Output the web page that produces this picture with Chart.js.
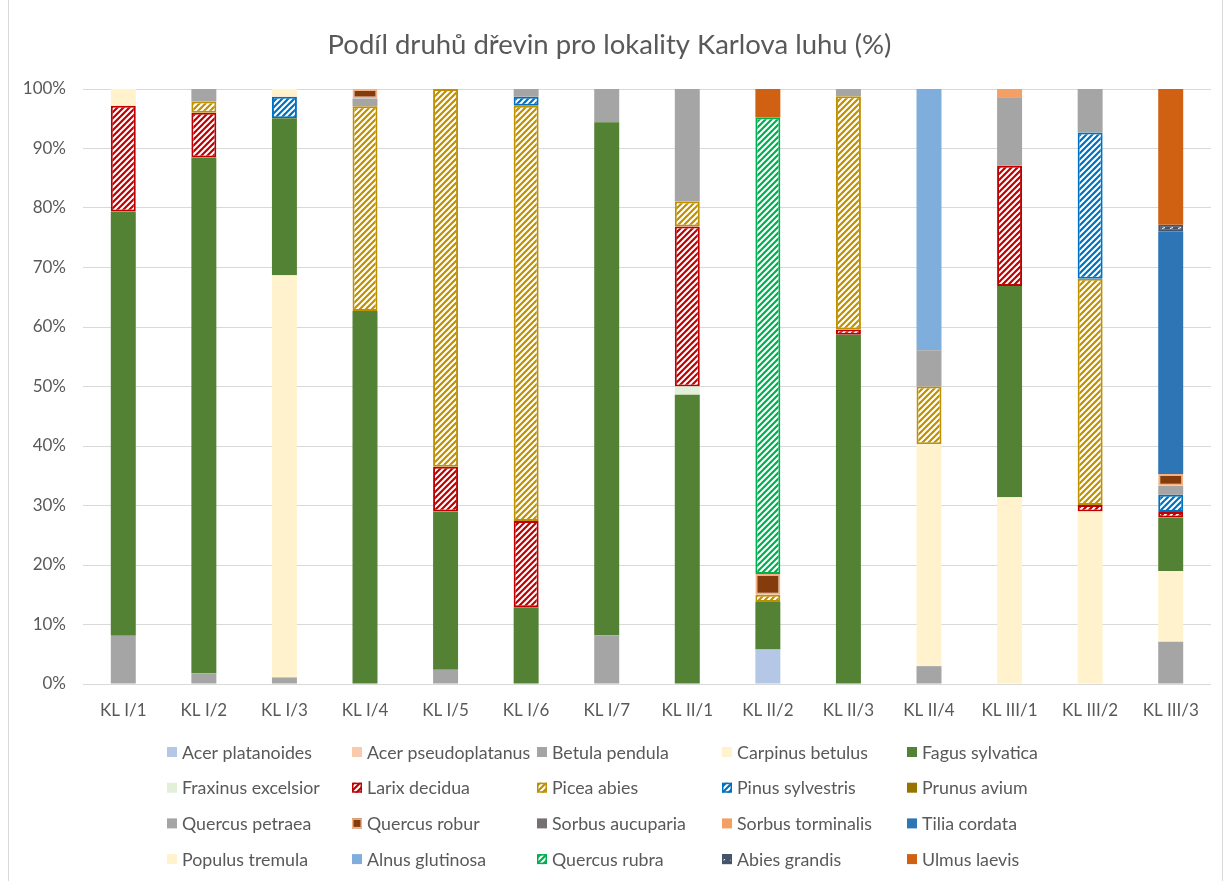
<!DOCTYPE html>
<html>
<head>
<meta charset="utf-8">
<title>Podíl druhů dřevin</title>
<script src="https://cdn.jsdelivr.net/npm/chart.js@4/dist/chart.umd.min.js"></script>
<style>
    body { margin: 0; background: #fff; }
    .chart-box { position: relative; width: 1224px; height: 881px; }
    .chart-box .frame { position: absolute; left: 8px; top: -1px; width: 1213px; height: 881px; border: 1px solid #d9d9d9; pointer-events: none; }
</style>
</head>
<body>
<div class="chart-box">
    <canvas id="myChart" width="1224" height="881"></canvas>
    <div class="frame"></div>
</div>
<script>
// locality labels
var localities = ["KL I/1", "KL I/2", "KL I/3", "KL I/4", "KL I/5", "KL I/6", "KL I/7",
    "KL II/1", "KL II/2", "KL II/3", "KL II/4", "KL III/1", "KL III/2", "KL III/3"];
var yTicks = [0, 10, 20, 30, 40, 50, 60, 70, 80, 90, 100];

// share of each species per locality (%), stacked bottom -> top
var acerPlatanoides    = [0, 0, 0, 0, 0, 0, 0, 0, 5.8, 0, 0, 0, 0, 0];
var acerPseudoplatanus = [0, 0, 0, 0, 0, 0, 0, 0, 0, 0, 0, 0, 0, 0];
var betulaPendula      = [8.1, 1.8, 1.1, 0, 2.4, 0, 8.2, 0, 0, 0, 3.0, 0, 0, 7.1];
var carpinusBetulus    = [0, 0, 67.6, 0, 0, 0, 0, 0, 0, 0, 37.3, 31.4, 29.0, 11.9];
var fagusSylvatica     = [71.3, 86.7, 26.4, 62.7, 26.6, 12.9, 86.2, 48.6, 8.0, 58.7, 0, 35.5, 0, 9.0];
var fraxinusExcelsior  = [0, 0, 0, 0, 0, 0, 0, 1.4, 0, 0, 0, 0, 0, 0];
var larixDecidua       = [17.8, 7.5, 0, 0, 7.5, 14.5, 0, 26.9, 0, 0.9, 0, 20.2, 1.1, 0.9];
var piceaAbies         = [0, 1.9, 0, 34.4, 63.5, 69.8, 0, 4.2, 1.2, 39.2, 9.7, 0, 38.0, 0];
var pinusSylvestris    = [0, 0, 3.6, 0, 0, 1.5, 0, 0, 0, 0, 0, 0, 24.6, 2.9];
var prunusAvium        = [0, 0, 0, 0, 0, 0, 0, 0, 0, 0, 0, 0, 0, 0];
var quercusPetraea     = [0, 2.1, 0, 1.3, 0, 1.3, 5.6, 18.9, 0, 1.2, 6.1, 11.5, 7.3, 1.5];
var quercusRobur       = [0, 0, 0, 1.6, 0, 0, 0, 0, 3.5, 0, 0, 0, 0, 2.0];
var sorbusAucuparia    = [0, 0, 0, 0, 0, 0, 0, 0, 0, 0, 0, 0, 0, 0];
var sorbusTorminalis   = [0, 0, 0, 0, 0, 0, 0, 0, 0, 0, 0, 1.4, 0, 0];
var tiliaCordata       = [0, 0, 0, 0, 0, 0, 0, 0, 0, 0, 0, 0, 0, 40.8];
var populusTremula     = [2.8, 0, 1.3, 0, 0, 0, 0, 0, 0, 0, 0, 0, 0, 0];
var alnusGlutinosa     = [0, 0, 0, 0, 0, 0, 0, 0, 0, 0, 43.9, 0, 0, 0];
var quercusRubra       = [0, 0, 0, 0, 0, 0, 0, 0, 76.7, 0, 0, 0, 0, 0];
var abiesGrandis       = [0, 0, 0, 0, 0, 0, 0, 0, 0, 0, 0, 0, 0, 1.1];
var ulmusLaevis        = [0, 0, 0, 0, 0, 0, 0, 0, 4.8, 0, 0, 0, 0, 22.8];

var canvas = document.getElementById('myChart');
var ctx = canvas.getContext('2d');
var FONT = 'Lato, "Open Sans", sans-serif';

// white diagonal stripes on colour (excel "wide upward diagonal")
function hatch(color) {
    var s = 6;
    var tile = document.createElement('canvas');
    tile.width = s; tile.height = s;
    var t = tile.getContext('2d');
    t.fillStyle = color;
    t.fillRect(0, 0, s, s);
    t.strokeStyle = '#ffffff';
    t.lineWidth = 2;
    t.beginPath();
    t.moveTo(-1, s + 1); t.lineTo(s + 1, -1);
    t.moveTo(-1, 1); t.lineTo(1, -1);
    t.moveTo(s - 1, s + 1); t.lineTo(s + 1, s - 1);
    t.stroke();
    return ctx.createPattern(tile, 'repeat');
}

// short white dashes on dark slate
function dashes(color) {
    var tile = document.createElement('canvas');
    tile.width = 8; tile.height = 8;
    var t = tile.getContext('2d');
    t.fillStyle = color;
    t.fillRect(0, 0, 8, 8);
    t.strokeStyle = '#ffffff';
    t.lineWidth = 1.2;
    t.beginPath();
    t.moveTo(2, 4.5); t.lineTo(5, 3.5);
    t.stroke();
    return ctx.createPattern(tile, 'repeat');
}

function solid(label, data, color) {
    return { label: label, data: data.map(function (v) { return v || null; }), backgroundColor: color, borderWidth: 0 };
}
function outlined(label, data, fill, border) {
    return { label: label, data: data.map(function (v) { return v || null; }), backgroundColor: fill,
        borderColor: border, borderWidth: 2, borderSkipped: false };
}

var datasets = [
    solid("Acer platanoides", acerPlatanoides, "#B4C7E7"),
    solid("Acer pseudoplatanus", acerPseudoplatanus, "#F8CBAD"),
    solid("Betula pendula", betulaPendula, "#A5A5A5"),
    solid("Carpinus betulus", carpinusBetulus, "#FFF2CC"),
    solid("Fagus sylvatica", fagusSylvatica, "#548235"),
    solid("Fraxinus excelsior", fraxinusExcelsior, "#E2F0D9"),
    outlined("Larix decidua", larixDecidua, hatch("#C00000"), "#C00000"),
    outlined("Picea abies", piceaAbies, hatch("#BF9000"), "#BF9000"),
    outlined("Pinus sylvestris", pinusSylvestris, hatch("#0070C0"), "#0070C0"),
    solid("Prunus avium", prunusAvium, "#997300"),
    solid("Quercus petraea", quercusPetraea, "#A5A5A5"),
    outlined("Quercus robur", quercusRobur, "#843C0C", "#F4B183"),
    solid("Sorbus aucuparia", sorbusAucuparia, "#767171"),
    solid("Sorbus torminalis", sorbusTorminalis, "#F4A064"),
    solid("Tilia cordata", tiliaCordata, "#2E75B6"),
    solid("Populus tremula", populusTremula, "#FFF2CC"),
    solid("Alnus glutinosa", alnusGlutinosa, "#7FAEDD"),
    outlined("Quercus rubra", quercusRubra, hatch("#00B050"), "#00B050"),
    outlined("Abies grandis", abiesGrandis, dashes("#44546A"), "#44546A"),
    solid("Ulmus laevis", ulmusLaevis, "#D06012")
];

// legend as a 5 column grid below the plot
var gridLegend = {
    id: 'gridLegend',
    afterDraw: function (chart) {
        var c = chart.ctx;
        c.save();
        c.font = '17.8px ' + FONT;
        c.textBaseline = 'middle';
        chart.data.datasets.forEach(function (ds, i) {
            var x = 167 + (i % 5) * 185;
            var y = 752 + Math.floor(i / 5) * 35.7;
            c.fillStyle = ds.backgroundColor;
            c.fillRect(x, y - 5, 10, 10);
            if (ds.borderWidth) {
                c.strokeStyle = ds.borderColor;
                c.lineWidth = 1.5;
                c.strokeRect(x + 0.75, y - 4.25, 8.5, 8.5);
            }
            c.fillStyle = '#595959';
            c.fillText(ds.label, x + 15, y + 1);
        });
        c.restore();
    }
};

var myChart = new Chart(ctx, {
    type: "bar",
    data: { labels: localities, datasets: datasets },
    plugins: [gridLegend],
    options: {
        responsive: false,
        animation: false,
        layout: { padding: { left: 8, right: 13, top: 0, bottom: 157 } },
        datasets: { bar: { categoryPercentage: 1, barPercentage: 0.31 } },
        plugins: {
            legend: { display: false },
            tooltip: { enabled: false },
            title: {
                display: true,
                text: "Podíl druhů dřevin pro lokality Karlova luhu (%)",
                color: "#595959",
                font: { family: FONT, size: 27.5, weight: 'normal', lineHeight: 1.2 },
                padding: { top: 29, bottom: 27 }
            }
        },
        scales: {
            x: {
                stacked: true,
                grid: { display: false, drawTicks: false },
                border: { display: false },
                ticks: { color: "#595959", font: { family: FONT, size: 17 }, padding: 16 },
                afterFit: function (scale) { scale.height = 40; }
            },
            y: {
                stacked: true,
                min: 0,
                max: 100,
                afterBuildTicks: function (scale) { scale.ticks = yTicks.map(function (v) { return { value: v }; }); },
                grid: { color: "#D9D9D9", lineWidth: 1, drawTicks: false },
                border: { display: false },
                ticks: {
                    color: "#595959",
                    font: { family: FONT, size: 17 },
                    padding: 17,
                    callback: function (v) { return v + '%'; }
                },
                afterFit: function (scale) { scale.width = 75; }
            }
        }
    }
});
</script>
</body>
</html>
